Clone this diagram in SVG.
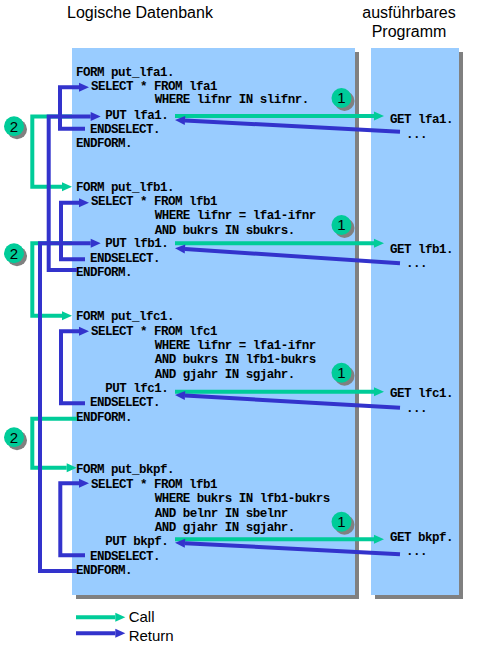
<svg xmlns="http://www.w3.org/2000/svg" width="479" height="671" viewBox="0 0 479 671">
<style>
.title{font-family:"Liberation Sans",Arial,sans-serif;font-size:16px;fill:#000}
.leg{font-family:"Liberation Sans",Arial,sans-serif;font-size:15px;fill:#000}
.code{font-family:"Liberation Mono","Courier New",monospace;font-size:12.5px;font-weight:bold;letter-spacing:-0.5px;fill:#000}
.panel{fill:#99CCFF}
.shadow{fill:#808080}
.g{fill:none;stroke:#00CC99;stroke-width:4}
.b{fill:none;stroke:#3333CC;stroke-width:4}
.badge{fill:#00CC99}
.num{font-family:"Liberation Sans",Arial,sans-serif;font-size:15px;fill:#000;text-anchor:middle}
</style>
<defs>
<marker id="ag" markerUnits="userSpaceOnUse" markerWidth="10" markerHeight="9" refX="0" refY="4.5" orient="auto" overflow="visible">
<path d="M0,0 L10,4.5 L0,9 z" fill="#00CC99"/>
</marker>
<marker id="ab" markerUnits="userSpaceOnUse" markerWidth="10" markerHeight="9" refX="0" refY="4.5" orient="auto" overflow="visible">
<path d="M0,0 L10,4.5 L0,9 z" fill="#3333CC"/>
</marker>
</defs>
<rect width="479" height="671" fill="#fff"/>

<g id="titles">
<text class="title" x="67" y="18">Logische Datenbank</text>
<text class="title" x="409" y="18" text-anchor="middle">ausführbares</text>
<text class="title" x="409" y="37" text-anchor="middle">Programm</text>
</g>

<g id="panel-ldb">
<rect class="shadow" x="76" y="52" width="283" height="547"/>
<rect class="panel" x="72" y="48" width="283" height="547"/>
</g>
<g id="panel-prog">
<rect class="shadow" x="375" y="52" width="88" height="547"/>
<rect class="panel" x="371" y="48" width="88" height="547"/>
</g>

<g id="form-lfa1">
<text class="code" x="76" y="76">FORM put_lfa1.</text>
<text class="code" x="91" y="89.5">SELECT * FROM lfa1</text>
<text class="code" x="154.7" y="103.3">WHERE lifnr IN slifnr.</text>
<text class="code" x="105.3" y="118.7">PUT lfa1.</text>
<text class="code" x="90" y="132.7">ENDSELECT.</text>
<text class="code" x="76" y="146.7">ENDFORM.</text>
</g>
<g id="form-lfb1">
<text class="code" x="76" y="190.7">FORM put_lfb1.</text>
<text class="code" x="91" y="205.3">SELECT * FROM lfb1</text>
<text class="code" x="154.7" y="219.3">WHERE lifnr = lfa1-ifnr</text>
<text class="code" x="154.7" y="234">AND bukrs IN sbukrs.</text>
<text class="code" x="105.3" y="247.3">PUT lfb1.</text>
<text class="code" x="90" y="262">ENDSELECT.</text>
<text class="code" x="76" y="276">ENDFORM.</text>
</g>
<g id="form-lfc1">
<text class="code" x="76" y="320">FORM put_lfc1.</text>
<text class="code" x="91" y="334.7">SELECT * FROM lfc1</text>
<text class="code" x="154.7" y="349.3">WHERE lifnr = lfa1-ifnr</text>
<text class="code" x="154.7" y="363.3">AND bukrs IN lfb1-bukrs</text>
<text class="code" x="154.7" y="378">AND gjahr IN sgjahr.</text>
<text class="code" x="105.3" y="392">PUT lfc1.</text>
<text class="code" x="90" y="406">ENDSELECT.</text>
<text class="code" x="76" y="420.7">ENDFORM.</text>
</g>
<g id="form-bkpf">
<text class="code" x="76" y="473.3">FORM put_bkpf.</text>
<text class="code" x="91" y="488">SELECT * FROM lfb1</text>
<text class="code" x="154.7" y="502">WHERE bukrs IN lfb1-bukrs</text>
<text class="code" x="154.7" y="516.7">AND belnr IN sbelnr</text>
<text class="code" x="154.7" y="531.3">AND gjahr IN sgjahr.</text>
<text class="code" x="105.3" y="545.3">PUT bkpf.</text>
<text class="code" x="90" y="560">ENDSELECT.</text>
<text class="code" x="76" y="574">ENDFORM.</text>
</g>

<g id="prog">
<text class="code" x="390" y="123.3">GET lfa1.</text>
<text class="code" x="406" y="138.3">...</text>
<text class="code" x="390" y="253.3">GET lfb1.</text>
<text class="code" x="406" y="266.7">...</text>
<text class="code" x="390" y="396.7">GET lfc1.</text>
<text class="code" x="406" y="411.7">...</text>
<text class="code" x="390" y="540.7">GET bkpf.</text>
<text class="code" x="406" y="555">...</text>
</g>

<g id="connectors">
<polyline class="g" points="72,116.5 32.3,116.5 32.3,186.7 62,186.7" marker-end="url(#ag)"/>
<polyline class="g" points="72,243.3 32.3,243.3 32.3,315.7 62,315.7" marker-end="url(#ag)"/>
<polyline class="g" points="77,418.7 32.3,418.7 32.3,467.7 66.7,467.7" marker-end="url(#ag)"/>
<polyline class="b" points="77,270 48.7,270 48.7,116.5 90.7,116.5" marker-end="url(#ab)"/>
<polyline class="b" points="77,571 40,571 40,243.3 90.7,243.3" marker-end="url(#ab)"/>
<polyline class="b" points="85,128.7 60,128.7 60,87.3 79,87.3" marker-end="url(#ab)"/>
<polyline class="b" points="85,259.3 61,259.3 61,202.7 79,202.7" marker-end="url(#ab)"/>
<polyline class="b" points="85,403.3 61,403.3 61,331.3 79,331.3" marker-end="url(#ab)"/>
<polyline class="b" points="85,555.3 60.3,555.3 60.3,483.3 79,483.3" marker-end="url(#ab)"/>
<line class="g" x1="175" y1="116" x2="374" y2="116" marker-end="url(#ag)"/>
<line class="g" x1="175" y1="243.3" x2="374" y2="243.3" marker-end="url(#ag)"/>
<line class="g" x1="175" y1="391.7" x2="374" y2="391.7" marker-end="url(#ag)"/>
<line class="g" x1="175" y1="539.3" x2="374" y2="539.3" marker-end="url(#ag)"/>
<line class="b" x1="400" y1="131.7" x2="185" y2="120.5" marker-end="url(#ab)"/>
<line class="b" x1="400" y1="263.3" x2="185" y2="249" marker-end="url(#ab)"/>
<line class="b" x1="400" y1="407.7" x2="185" y2="395.6" marker-end="url(#ab)"/>
<line class="b" x1="400" y1="554.3" x2="185" y2="543.2" marker-end="url(#ab)"/>
</g>

<g id="badges">
<g id="badge-1a"><circle class="shadow" cx="344.5" cy="101" r="10"/><circle class="badge" cx="341.5" cy="98" r="10"/><text class="num" x="341.5" y="103.3">1</text></g>
<g id="badge-1b"><circle class="shadow" cx="344.5" cy="228" r="10"/><circle class="badge" cx="341.5" cy="225" r="10"/><text class="num" x="341.5" y="230.3">1</text></g>
<g id="badge-1c"><circle class="shadow" cx="344.5" cy="375.7" r="10"/><circle class="badge" cx="341.5" cy="372.7" r="10"/><text class="num" x="341.5" y="378">1</text></g>
<g id="badge-1d"><circle class="shadow" cx="344.5" cy="524.7" r="10"/><circle class="badge" cx="341.5" cy="521.7" r="10"/><text class="num" x="341.5" y="527">1</text></g>
<g id="badge-2a"><circle class="shadow" cx="17" cy="129.3" r="10"/><circle class="badge" cx="14" cy="126.3" r="10"/><text class="num" x="14" y="131.6">2</text></g>
<g id="badge-2b"><circle class="shadow" cx="17" cy="256.3" r="10"/><circle class="badge" cx="14" cy="253.3" r="10"/><text class="num" x="14" y="258.6">2</text></g>
<g id="badge-2c"><circle class="shadow" cx="17" cy="440.3" r="10"/><circle class="badge" cx="14" cy="437.3" r="10"/><text class="num" x="14" y="442.6">2</text></g>
</g>

<g id="legend">
<line class="g" x1="76" y1="617.3" x2="115.3" y2="617.3" marker-end="url(#ag)"/>
<text class="leg" x="128.7" y="621.7">Call</text>
<line class="b" x1="76" y1="633.3" x2="115.3" y2="633.3" marker-end="url(#ab)"/>
<text class="leg" x="128.7" y="640.7">Return</text>
</g>
</svg>
